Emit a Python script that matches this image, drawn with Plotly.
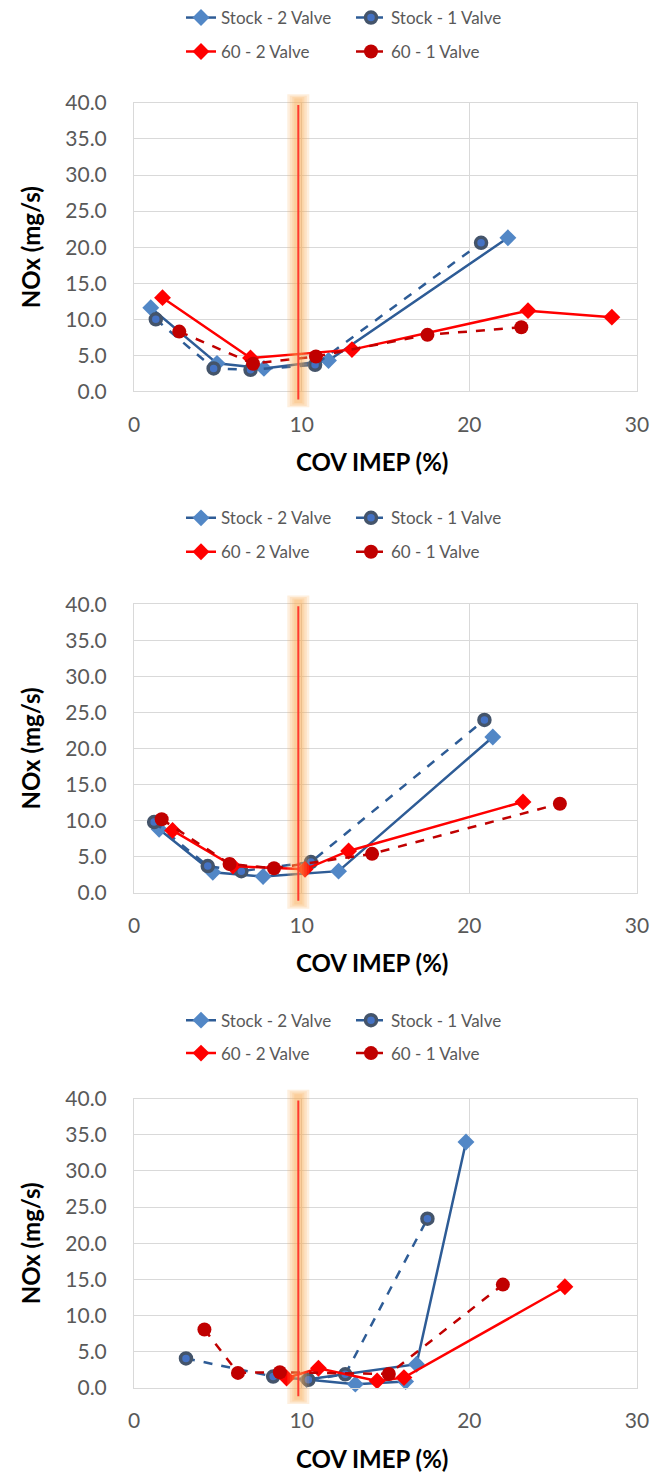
import plotly.graph_objects as go

# ---------------------------------------------------------------- data
SERIES_NAMES = ["Stock - 2 Valve", "Stock - 1 Valve", "60 - 2 Valve", "60 - 1 Valve"]
COV_TICKS = [0, 10, 20, 30]
NOX_TICKS = [0, 5, 10, 15, 20, 25, 30, 35, 40]
STABILITY_LIMIT_COV = 9.8   # vertical guide line, COV IMEP (%)

# Panel 1
p1_stock2_cov = [1.0, 4.95, 7.75, 11.6, 22.3]
p1_stock2_nox = [11.6, 3.9, 3.2, 4.3, 21.3]
p1_stock1_cov = [1.3, 4.75, 6.95, 10.8, 20.7]
p1_stock1_nox = [10.0, 3.2, 3.0, 3.7, 20.6]
p1_sixty2_cov = [1.7, 6.95, 13.0, 23.5, 28.5]
p1_sixty2_nox = [13.0, 4.65, 5.8, 11.2, 10.3]
p1_sixty1_cov = [2.7, 7.1, 10.85, 17.5, 23.1]
p1_sixty1_nox = [8.3, 3.85, 4.85, 7.85, 8.9]

# Panel 2
p2_stock2_cov = [1.5, 4.7, 7.7, 12.2, 21.4]
p2_stock2_nox = [8.8, 2.85, 2.25, 3.0, 21.6]
p2_stock1_cov = [1.2, 4.4, 6.4, 10.55, 20.9]
p2_stock1_nox = [9.8, 3.7, 3.0, 4.25, 23.95]
p2_sixty2_cov = [2.3, 5.9, 10.2, 12.8, 23.2]
p2_sixty2_nox = [8.65, 3.7, 3.25, 5.8, 12.6]
p2_sixty1_cov = [1.65, 5.7, 8.35, 14.2, 25.4]
p2_sixty1_nox = [10.2, 4.0, 3.4, 5.4, 12.35]

# Panel 3
p3_stock2_cov = [16.2, 13.2, 10.3, 16.85, 19.8]
p3_stock2_nox = [0.9, 0.55, 1.2, 3.3, 34.0]
p3_stock1_cov = [3.1, 8.3, 10.4, 12.6, 17.5]
p3_stock1_nox = [4.1, 1.6, 1.15, 1.9, 23.4]
p3_sixty2_cov = [9.1, 11.0, 14.5, 16.1, 25.7]
p3_sixty2_nox = [1.4, 2.75, 1.0, 1.45, 14.0]
p3_sixty1_cov = [4.2, 6.2, 8.7, 15.2, 22.0]
p3_sixty1_nox = [8.1, 2.1, 2.2, 1.95, 14.3]

panels = [
    [(p1_stock2_cov, p1_stock2_nox), (p1_stock1_cov, p1_stock1_nox),
     (p1_sixty2_cov, p1_sixty2_nox), (p1_sixty1_cov, p1_sixty1_nox)],
    [(p2_stock2_cov, p2_stock2_nox), (p2_stock1_cov, p2_stock1_nox),
     (p2_sixty2_cov, p2_sixty2_nox), (p2_sixty1_cov, p2_sixty1_nox)],
    [(p3_stock2_cov, p3_stock2_nox), (p3_stock1_cov, p3_stock1_nox),
     (p3_sixty2_cov, p3_sixty2_nox), (p3_sixty1_cov, p3_sixty1_nox)],
]

# ---------------------------------------------------------------- styles
W, H = 662, 1477
FONT = "Lato"
GREY_TEXT = "#595959"
GRID = "#D9D9D9"
TITLE_FONT = dict(family=FONT, size=24, color="black", weight="bold")

STYLES = [
    dict(line=dict(color="#2E5C96", width=2.5, dash="solid"),
         marker=dict(symbol="diamond", size=13, color="#5287C6",
                     line=dict(width=0))),
    dict(line=dict(color="#2E5C96", width=2.5, dash="dash"),
         marker=dict(symbol="circle", size=11, color="#4472C4",
                     line=dict(width=3.5, color="#44546A"))),
    dict(line=dict(color="#FF0000", width=2.5, dash="solid"),
         marker=dict(symbol="diamond", size=13, color="#FF0000",
                     line=dict(width=0))),
    dict(line=dict(color="#C00000", width=2.5, dash="dash"),
         marker=dict(symbol="circle", size=14, color="#C00000",
                     line=dict(width=0))),
]

# plot-area pixel boxes for each panel
PLOT_L, PLOT_R = 134, 637
PANEL_TB = [(101, 390), (603, 892), (1098, 1388)]
LEGEND_ROWS = [(16, 50), (517, 551), (1020, 1053)]
LEGEND_LEFT = 181
XTITLE_CENTER = 372   # x-axis title centre, px
XTITLE_DROP = 70      # x-axis title centre below plot bottom, px

fig = go.Figure()
layout = dict(
    width=W, height=H,
    margin=dict(l=PLOT_L, r=W - PLOT_R, t=0, b=0),
    paper_bgcolor="white", plot_bgcolor="white",
    font=dict(family=FONT, color=GREY_TEXT),
    shapes=[], annotations=[],
)

for i, series in enumerate(panels):
    n = i + 1
    xa = "x" if n == 1 else f"x{n}"
    ya = "y" if n == 1 else f"y{n}"
    top, bot = PANEL_TB[i]
    dom = [(H - bot) / H, (H - top) / H]
    leg_names = ["legend" if 2 * i == 0 else f"legend{2 * i + 1}", f"legend{2 * i + 2}"]

    for k, ((cov, nox), name, st) in enumerate(zip(series, SERIES_NAMES, STYLES)):
        fig.add_trace(go.Scatter(
            x=cov, y=nox, name=name, mode="lines+markers",
            line=st["line"], marker=st["marker"],
            xaxis=xa, yaxis=ya,
            legend=leg_names[0] if k < 2 else leg_names[1],
            cliponaxis=False,
        ))

    axis_x = dict(
        domain=[0, 1], anchor=ya, range=[0, 30], tickvals=COV_TICKS,
        showgrid=True, gridcolor=GRID, gridwidth=1,
        showline=True, linecolor=GRID, linewidth=1, mirror=True,
        zeroline=False, ticks="", ticklabelstandoff=14,
        tickfont=dict(family=FONT, size=21, color=GREY_TEXT),
        automargin=False, fixedrange=True,
    )
    axis_y = dict(
        domain=dom, anchor=xa, range=[0, 40], tickvals=NOX_TICKS,
        tickformat=".1f",
        showgrid=True, gridcolor=GRID, gridwidth=1,
        showline=True, linecolor=GRID, linewidth=1, mirror=True,
        zeroline=False, ticks="", ticklabelstandoff=22,
        tickfont=dict(family=FONT, size=21, color=GREY_TEXT),
        title=dict(text="NOx (mg/s)", standoff=17, font=TITLE_FONT),
        automargin=False, fixedrange=True,
    )
    layout["xaxis" if n == 1 else f"xaxis{n}"] = axis_x
    layout["yaxis" if n == 1 else f"yaxis{n}"] = axis_y

    # x-axis title, centred on the chart rather than the plot area
    layout["annotations"].append(dict(
        text="<b>COV IMEP (%)</b>", showarrow=False,
        xref=f"{xa} domain", yref=f"{ya} domain",
        x=(XTITLE_CENTER - PLOT_L) / (PLOT_R - PLOT_L), xanchor="center",
        y=-XTITLE_DROP / (bot - top), yanchor="middle",
        font=TITLE_FONT,
    ))

    # glowing guide line at the COV stability limit
    yd = f"{ya} domain"
    for wpx, y0, y1 in [(22, -0.055, 1.03), (17, -0.05, 1.025),
                        (12, -0.045, 1.02), (8, -0.04, 1.015)]:
        layout["shapes"].append(dict(
            type="line", xref=xa, yref=yd,
            x0=STABILITY_LIMIT_COV, x1=STABILITY_LIMIT_COV, y0=y0, y1=y1,
            line=dict(color="rgba(250,170,80,0.19)", width=wpx), layer="above"))
    layout["shapes"].append(dict(
        type="line", xref=xa, yref=yd,
        x0=STABILITY_LIMIT_COV, x1=STABILITY_LIMIT_COV, y0=-0.028, y1=0.993,
        line=dict(color="#FF3B2F", width=2), layer="above"))

    # two-row legend above each panel
    for leg, py in zip(leg_names, LEGEND_ROWS[i]):
        layout[leg] = dict(
            orientation="h", x=(LEGEND_LEFT - PLOT_L) / (PLOT_R - PLOT_L),
            xanchor="left", y=1 - py / H, yanchor="middle",
            entrywidth=125, entrywidthmode="pixels",
            font=dict(family=FONT, size=17, color=GREY_TEXT),
            bgcolor="rgba(0,0,0,0)", itemclick=False, itemdoubleclick=False,
            tracegroupgap=0,
        )

fig.update_layout(**layout)
fig.write_html("out.html")
